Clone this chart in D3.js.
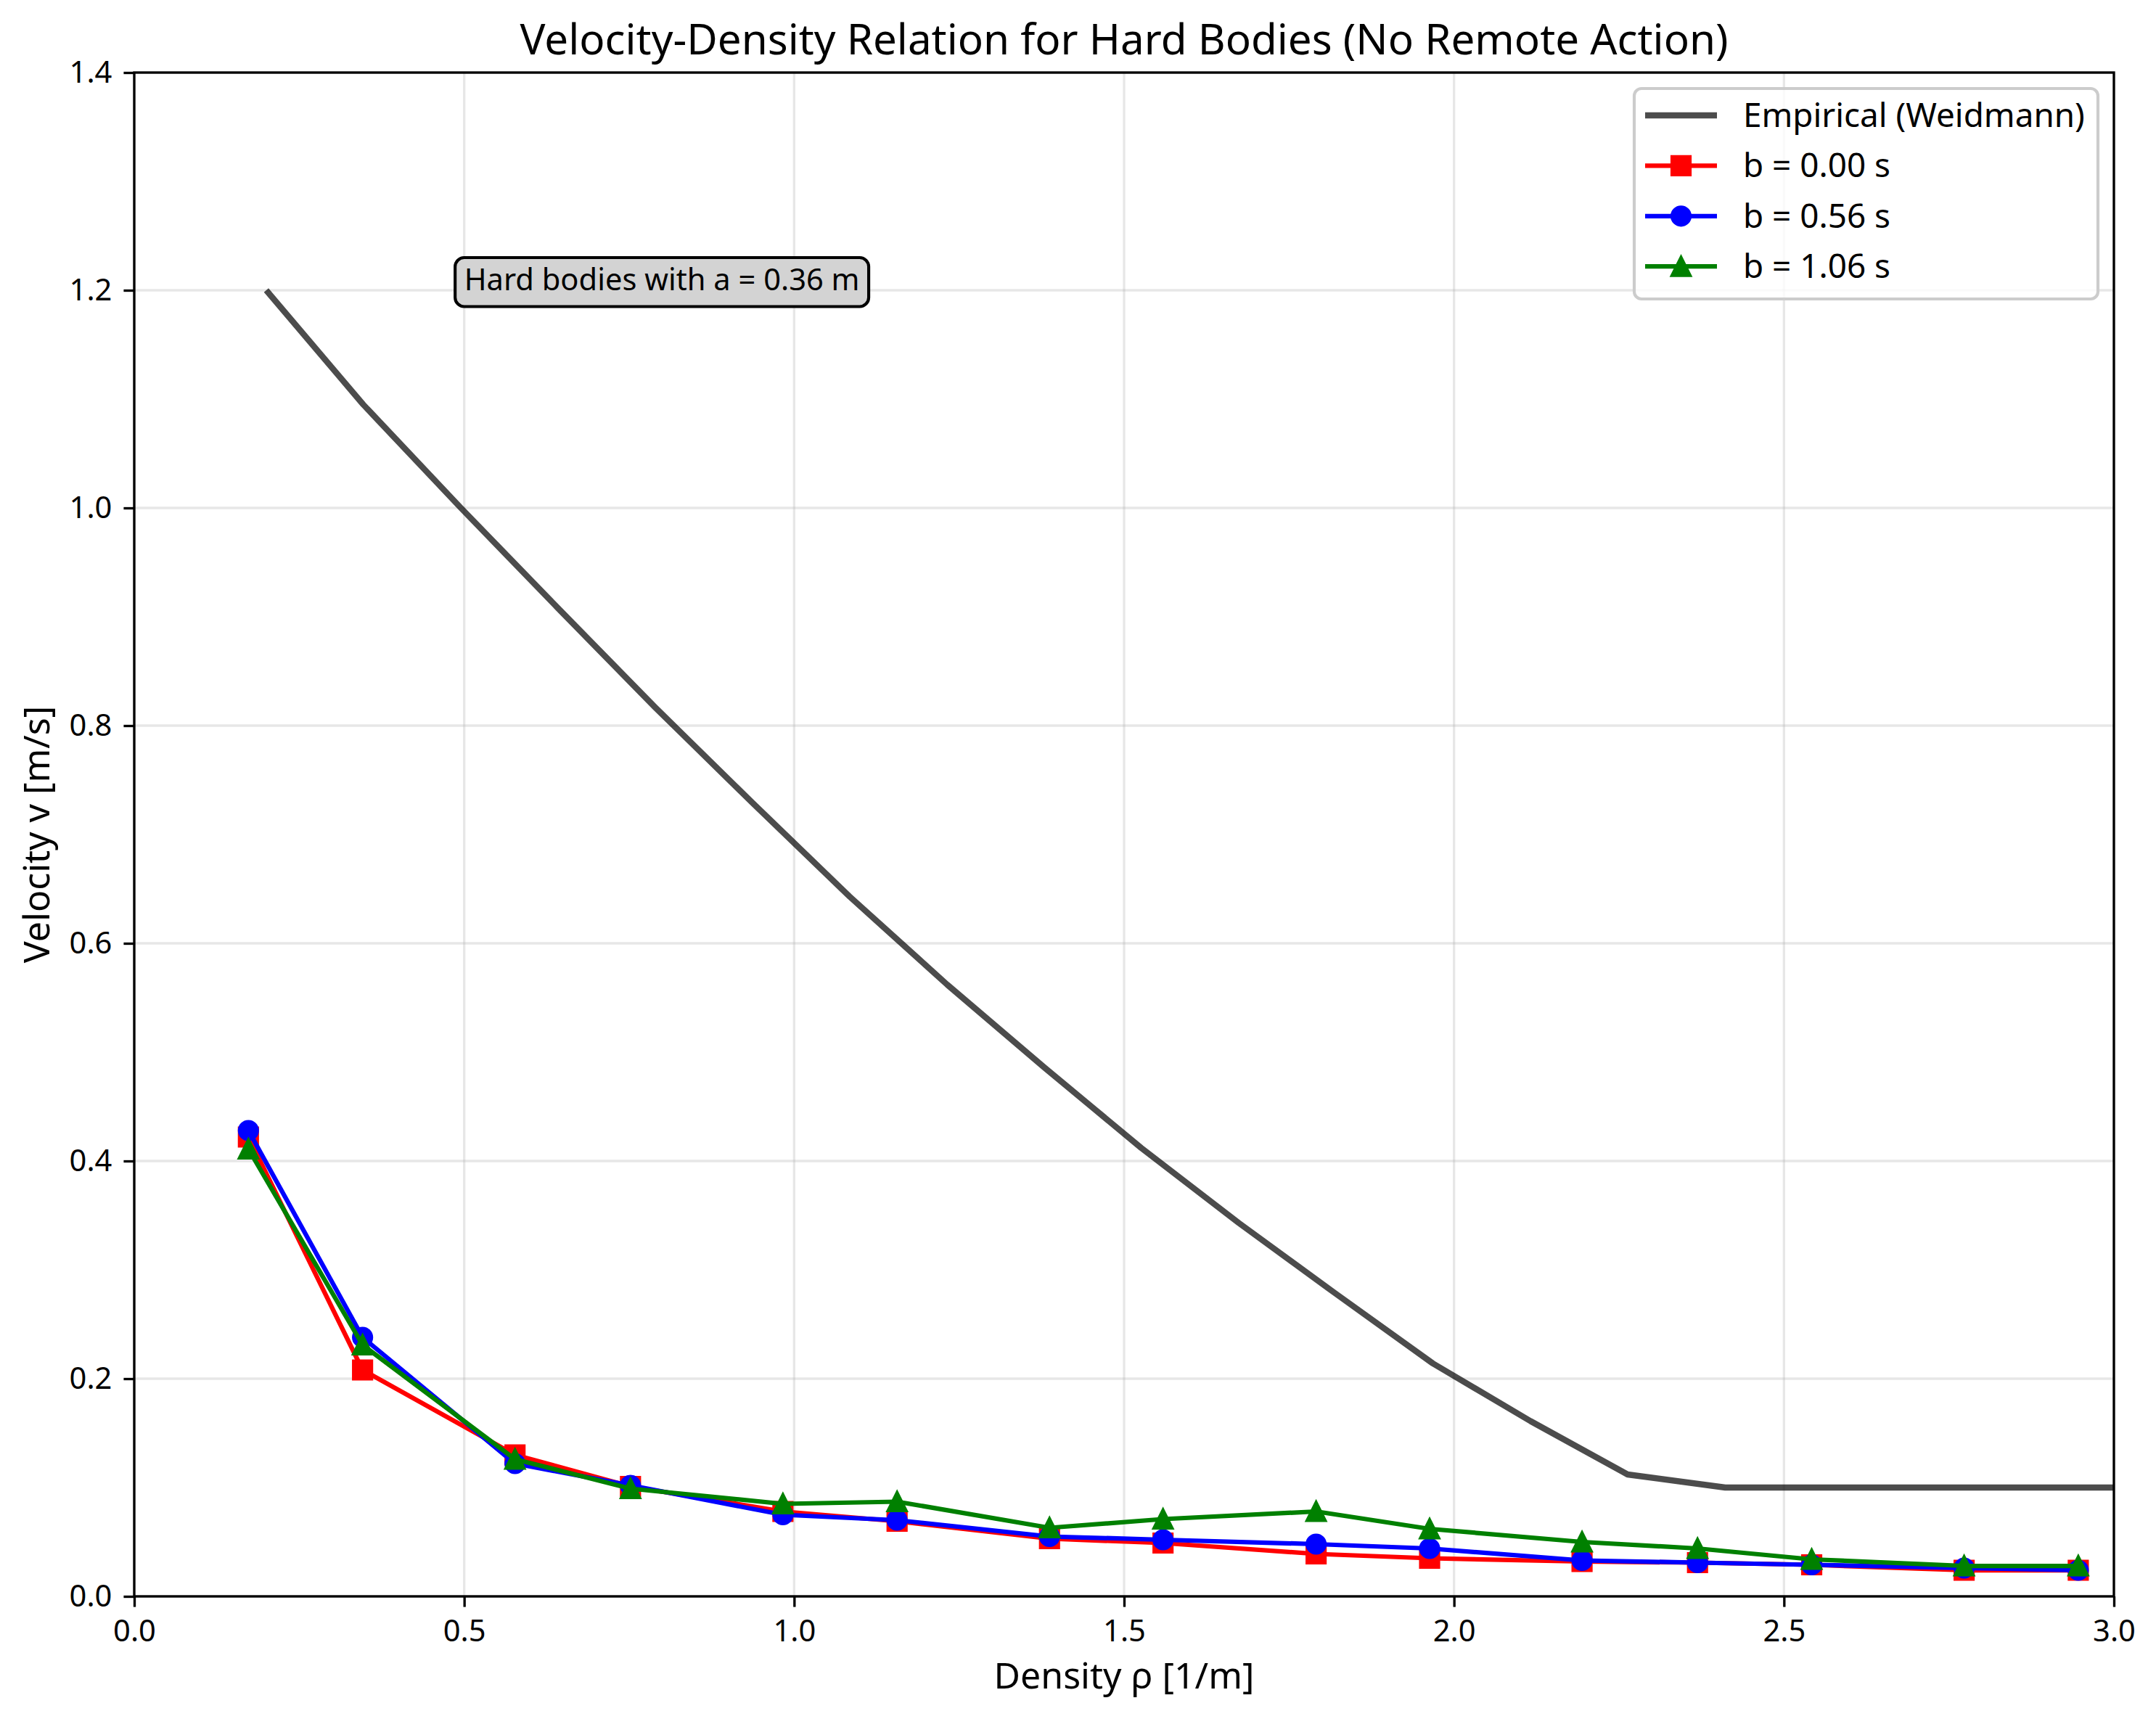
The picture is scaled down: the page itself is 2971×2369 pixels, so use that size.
<!DOCTYPE html>
<html>
<head>
<meta charset="utf-8">
<script src="https://cdn.jsdelivr.net/npm/d3@7"></script>
<style>
  body { margin: 0; background: #fff; }
  text { font-family: "Noto Sans", "Open Sans", sans-serif; fill: #000; }
</style>
</head>
<body>
<script>
// densities used in the simulation runs [1/m]
var densities = [0.173, 0.346, 0.577, 0.752, 0.983, 1.156, 1.387, 1.559, 1.791, 1.963, 2.194, 2.369, 2.542, 2.773, 2.946];

// measured speeds [m/s], one list per b value
var speedB000 = [0.422, 0.208, 0.130, 0.101, 0.078, 0.069, 0.053, 0.049, 0.039, 0.035, 0.032, 0.031, 0.029, 0.024, 0.024];
var speedB056 = [0.428, 0.238, 0.122, 0.102, 0.075, 0.070, 0.055, 0.052, 0.048, 0.044, 0.033, 0.031, 0.029, 0.026, 0.024];
var speedB106 = [0.411, 0.231, 0.126, 0.099, 0.085, 0.087, 0.063, 0.071, 0.078, 0.062, 0.050, 0.044, 0.034, 0.028, 0.028];

// empirical curve (Weidmann)
var empDensity = [0.200, 0.347, 0.495, 0.642, 0.789, 0.937, 1.084, 1.232, 1.379, 1.526, 1.674, 1.821, 1.968, 2.116, 2.263, 2.411, 2.558, 2.705, 2.853, 3.000];
var empSpeed = [1.200, 1.095, 1.000, 0.908, 0.817, 0.729, 0.643, 0.562, 0.486, 0.412, 0.343, 0.278, 0.214, 0.161, 0.112, 0.100, 0.100, 0.100, 0.100, 0.100];

var seriesLabels = ["Empirical (Weidmann)", "b = 0.00 s", "b = 0.56 s", "b = 1.06 s"];
var xTicks = [0.0, 0.5, 1.0, 1.5, 2.0, 2.5, 3.0];
var yTicks = [0.0, 0.2, 0.4, 0.6, 0.8, 1.0, 1.2, 1.4];

var titleText = "Velocity-Density Relation for Hard Bodies (No Remote Action)";
var xLabel = "Density \u03c1 [1/m]";
var yLabel = "Velocity v [m/s]";
var noteText = "Hard bodies with a = 0.36 m";

// 1pt at the figure's resolution
var pt = 300 / 72;

var width = 2971,
    height = 2369;
var margin = {top: 100, right: 58, bottom: 169, left: 185};

var svg = d3.select("body").append("svg")
    .attr("width", width)
    .attr("height", height);

var x = d3.scaleLinear().domain([0, 3]).range([margin.left, width - margin.right]);
var y = d3.scaleLinear().domain([0, 1.4]).range([height - margin.bottom, margin.top]);

// grid
var grid = svg.append("g").attr("class", "grid")
    .attr("stroke", "#b0b0b0")
    .attr("stroke-opacity", 0.3)
    .attr("stroke-width", 0.8 * pt);

grid.selectAll("line.gx").data(xTicks).enter().append("line")
    .attr("x1", function(d) { return x(d); })
    .attr("x2", function(d) { return x(d); })
    .attr("y1", y(0)).attr("y2", y(1.4));

grid.selectAll("line.gy").data(yTicks).enter().append("line")
    .attr("y1", function(d) { return y(d); })
    .attr("y2", function(d) { return y(d); })
    .attr("x1", x(0)).attr("x2", x(3));

// line generator
var line = d3.line()
    .x(function(d) { return x(d[0]); })
    .y(function(d) { return y(d[1]); });

// empirical curve
svg.append("path")
    .datum(d3.zip(empDensity, empSpeed))
    .attr("fill", "none")
    .attr("stroke", "#000")
    .attr("stroke-opacity", 0.7)
    .attr("stroke-width", 2 * pt)
    .attr("stroke-linejoin", "round")
    .attr("d", line);

// marker shapes, matplotlib style
var half = 3 * pt;
function markerPath(kind) {
  if (kind == "square") {
    return "M" + (-half) + "," + (-half) + "H" + half + "V" + half + "H" + (-half) + "Z";
  }
  // triangle pointing up
  return "M0," + (-half) + "L" + half + "," + half + "L" + (-half) + "," + half + "Z";
}

function drawMarker(sel, kind, color) {
  if (kind == "circle") {
    sel.append("circle").attr("r", half);
  } else {
    sel.append("path").attr("d", markerPath(kind));
  }
  sel.selectAll("circle, path")
    .attr("fill", color)
    .attr("stroke", color)
    .attr("stroke-width", 1 * pt);
}

var series = [
  {values: speedB000, color: "#ff0000", marker: "square"},
  {values: speedB056, color: "#0000ff", marker: "circle"},
  {values: speedB106, color: "#008000", marker: "triangle"}
];

series.forEach(function(s) {
  var pts = d3.zip(densities, s.values);

  svg.append("path")
      .datum(pts)
      .attr("fill", "none")
      .attr("stroke", s.color)
      .attr("stroke-width", 1.5 * pt)
      .attr("stroke-linejoin", "round")
      .attr("d", line);

  svg.append("g").selectAll("g").data(pts).enter().append("g")
      .attr("transform", function(d) { return "translate(" + x(d[0]) + "," + y(d[1]) + ")"; })
      .each(function() { drawMarker(d3.select(this), s.marker, s.color); });
});

// axes
var tickFont = 10 * pt;

var xAxis = svg.append("g")
    .attr("transform", "translate(0," + y(0) + ")")
    .call(d3.axisBottom(x).tickValues(xTicks).tickFormat(d3.format(".1f"))
      .tickSize(3.5 * pt).tickSizeOuter(0).tickPadding(17.8));

var yAxis = svg.append("g")
    .attr("transform", "translate(" + x(0) + ",0)")
    .call(d3.axisLeft(y).tickValues(yTicks).tickFormat(d3.format(".1f"))
      .tickSize(3.5 * pt).tickSizeOuter(0).tickPadding(16));

[xAxis, yAxis].forEach(function(ax) {
  ax.select(".domain").remove();
  ax.attr("font-size", tickFont).attr("font-family", null);
  ax.selectAll(".tick line").attr("stroke", "#000").attr("stroke-width", 0.8 * pt);
  ax.selectAll(".tick text").attr("fill", "#000");
});

// frame
svg.append("rect")
    .attr("x", x(0)).attr("y", y(1.4))
    .attr("width", x(3) - x(0)).attr("height", y(0) - y(1.4))
    .attr("fill", "none")
    .attr("stroke", "#000")
    .attr("stroke-width", 0.8 * pt);

// title and axis labels
svg.append("text")
    .attr("x", (x(0) + x(3)) / 2)
    .attr("y", 75)
    .attr("text-anchor", "middle")
    .attr("font-size", 14 * pt)
    .text(titleText);

svg.append("text")
    .attr("x", (x(0) + x(3)) / 2)
    .attr("y", 2327)
    .attr("text-anchor", "middle")
    .attr("font-size", 12 * pt)
    .text(xLabel);

svg.append("text")
    .attr("transform", "translate(68," + ((y(0) + y(1.4)) / 2) + ") rotate(-90)")
    .attr("text-anchor", "middle")
    .attr("font-size", 12 * pt)
    .text(yLabel);

// annotation box
var noteFont = 10 * pt;
var note = svg.append("g");
var noteLabel = note.append("text")
    .attr("x", x(0.5))
    .attr("y", y(1.2))
    .attr("font-size", noteFont)
    .text(noteText);
var nb = noteLabel.node().getBBox();
var pad = 0.3 * noteFont;
note.insert("rect", "text")
    .attr("x", nb.x - pad)
    .attr("y", y(1.2) - 0.78 * noteFont - pad)
    .attr("width", nb.width + 2 * pad)
    .attr("height", 1.02 * noteFont + 2 * pad)
    .attr("rx", pad).attr("ry", pad)
    .attr("fill", "#d3d3d3")
    .attr("stroke", "#000")
    .attr("stroke-width", 1 * pt);

// legend
var legFont = 11 * pt;
var legend = svg.append("g");
legend.append("rect")
    .attr("x", 2252).attr("y", 122)
    .attr("width", 639).attr("height", 290)
    .attr("rx", 10).attr("ry", 10)
    .attr("fill", "#fff")
    .attr("fill-opacity", 0.8)
    .attr("stroke", "#cccccc")
    .attr("stroke-width", 1 * pt);

var legendItems = [
  {color: "#000", opacity: 0.7, width: 2 * pt, marker: null},
  {color: "#ff0000", opacity: 1, width: 1.5 * pt, marker: "square"},
  {color: "#0000ff", opacity: 1, width: 1.5 * pt, marker: "circle"},
  {color: "#008000", opacity: 1, width: 1.5 * pt, marker: "triangle"}
];

var rows = legend.selectAll("g.row").data(legendItems).enter().append("g")
    .attr("class", "row")
    .attr("transform", function(d, i) { return "translate(0," + (159 + i * 69.4) + ")"; });

rows.append("line")
    .attr("x1", 2267).attr("x2", 2366)
    .attr("stroke", function(d) { return d.color; })
    .attr("stroke-opacity", function(d) { return d.opacity; })
    .attr("stroke-width", function(d) { return d.width; });

rows.each(function(d) {
  if (d.marker) {
    var m = d3.select(this).append("g").attr("transform", "translate(2316.5,0)");
    drawMarker(m, d.marker, d.color);
  }
});

rows.append("text")
    .attr("x", 2402)
    .attr("dy", "0.35em")
    .attr("font-size", legFont)
    .text(function(d, i) { return seriesLabels[i]; });
</script>
</body>
</html>
